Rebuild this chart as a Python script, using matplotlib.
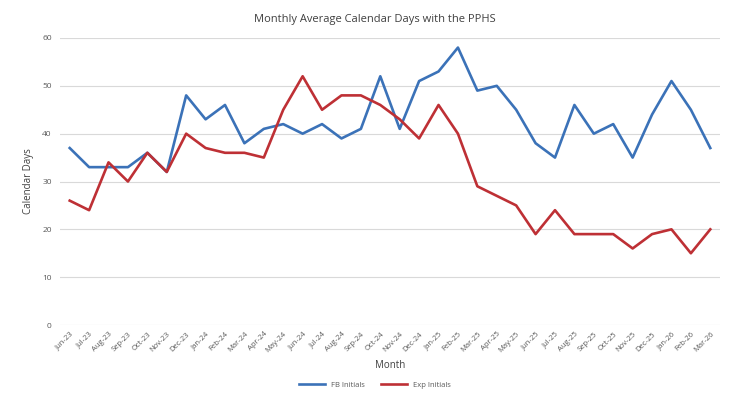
import matplotlib
matplotlib.use('Agg')
import matplotlib.pyplot as plt
import numpy as np

months = ['Jun-23', 'Jul-23', 'Aug-23', 'Sep-23', 'Oct-23', 'Nov-23', 'Dec-23',
          'Jan-24', 'Feb-24', 'Mar-24', 'Apr-24', 'May-24', 'Jun-24', 'Jul-24',
          'Aug-24', 'Sep-24', 'Oct-24', 'Nov-24', 'Dec-24',
          'Jan-25', 'Feb-25', 'Mar-25', 'Apr-25', 'May-25', 'Jun-25', 'Jul-25',
          'Aug-25', 'Sep-25', 'Oct-25', 'Nov-25', 'Dec-25',
          'Jan-26', 'Feb-26', 'Mar-26']

fb_initials = [37, 33, 33, 33, 36, 32, 48, 43, 46, 38, 41, 42, 40, 42, 39, 41, 52, 41, 51,
               53, 58, 49, 50, 45, 38, 35, 46, 40, 42, 35, 44, 51, 45, 37]
exp_initials = [26, 24, 34, 30, 36, 32, 40, 37, 36, 36, 35, 45, 52, 45, 48, 48, 46, 43, 39,
                46, 40, 29, 27, 25, 19, 24, 19, 19, 19, 16, 19, 20, 15, 20]

plt.rcParams['font.family'] = ['Open Sans', 'DejaVu Sans']

fig = plt.figure(figsize=(7.5, 4), dpi=100)
ax = fig.add_axes([0.08, 0.1875, 0.88, 0.7175])

x = np.arange(len(months))
ax.plot(x, fb_initials, color='#3B72B8', lw=1.9, label='FB Initials')
ax.plot(x, exp_initials, color='#BE3035', lw=1.9, label='Exp Initials')

ax.set_xlim(-0.5, len(months) - 0.5)
ax.set_ylim(0, 60)
ax.set_yticks(range(0, 61, 10))
ax.set_xticks(x)
ax.set_xticklabels(months, rotation=45, ha='right', rotation_mode='anchor')
ax.tick_params(axis='x', labelsize=5.5, colors='#595959', length=0, pad=4)
ax.tick_params(axis='y', labelsize=6, colors='#595959', length=0, pad=6)
ax.grid(axis='y', color='#D9D9D9', lw=0.8)
ax.set_axisbelow(True)
for s in ax.spines.values():
    s.set_visible(False)

ax.set_ylabel('Calendar Days', fontsize=7, color='#404040', labelpad=6)
ax.set_xlabel('Month', fontsize=7, color='#404040', labelpad=4)
fig.suptitle('Monthly Average Calendar Days with the PPHS', fontsize=8, color='#404040', y=0.965)

fig.legend(loc='lower center', ncol=2, frameon=False, fontsize=5.5,
           bbox_to_anchor=(0.5, 0.01), handlelength=3.5, columnspacing=2,
           labelcolor='#595959')

fig.savefig('out.png', dpi=100)
